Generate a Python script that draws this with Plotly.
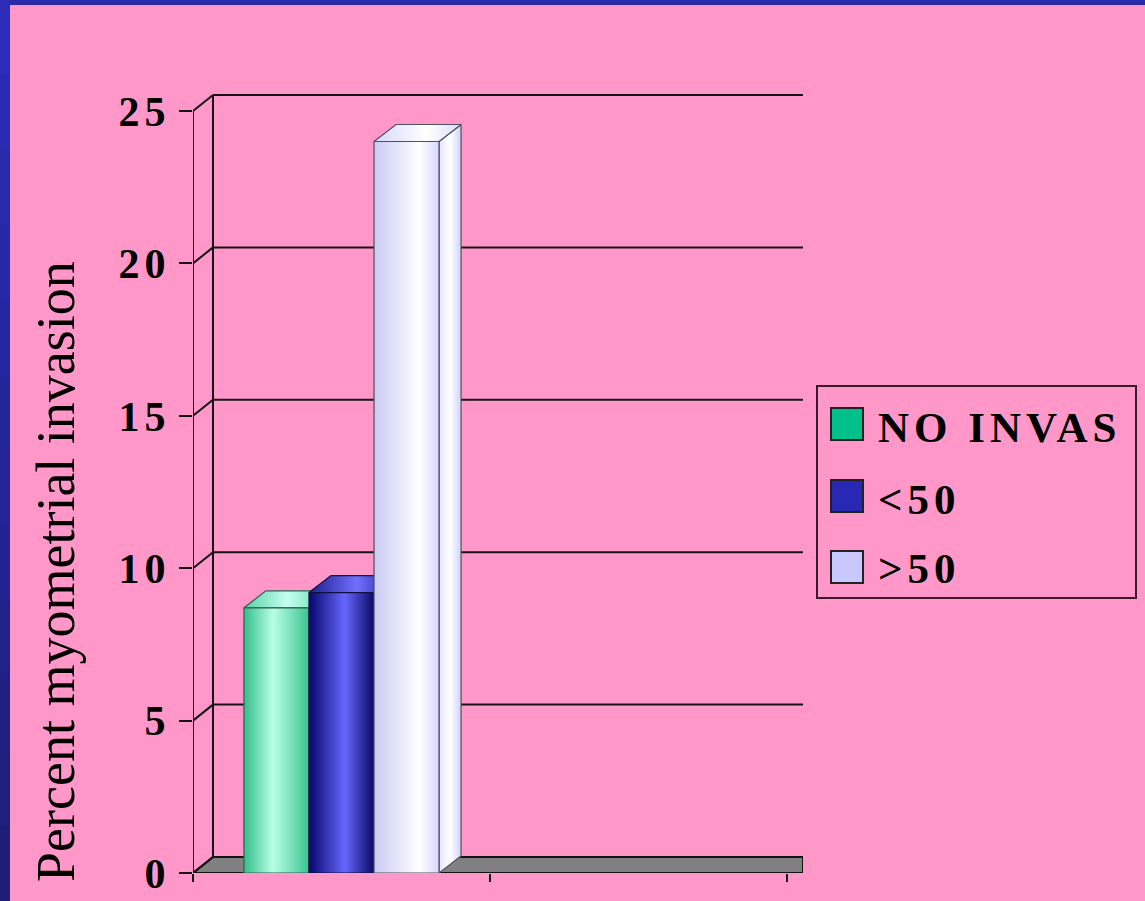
import plotly.graph_objects as go

# ---------------- data ----------------
categories = ["NO INVAS", "<50", ">50"]
values = [8.7, 9.2, 24.0]
y_ticks = [0, 5, 10, 15, 20, 25]
x_slots = [0, 1, 2]
y_title = "Percent myometrial invasion"

# ---------------- style ----------------
W, H = 1145, 901
PL, PR, PT, PB = 193, 803, 85, 873       # plot area in pixels
X_MAX = (PR - PL) / 297.0
Y_MAX = (PB - PT) / 30.48
WALL_DX, WALL_DY = 20 / 297.0, 16 / 30.48
BAR_DX, BAR_DY = 22 / 297.0, 17 / 30.48
BAR_W = 0.219
GROUP_C = 0.5

PINK = "#FF98C8"
FRAME = "#2A2AA8"
LINE = "#141414"

front_scales = [
    [[0, "#34BE88"], [0.45, "#B8FFE8"], [1, "#3AC48E"]],
    [[0, "#06066C"], [0.55, "#6666FF"], [1, "#0A0A64"]],
    [[0, "#CACAF4"], [0.7, "#FFFFFF"], [1, "#D6D6FE"]],
]
top_scales = [
    [[0, "#58D2A4"], [0.5, "#C4FFF0"], [1, "#58D2A4"]],
    [[0, "#1E1E90"], [0.55, "#7070FF"], [1, "#1E1E90"]],
    [[0, "#D6D6FA"], [0.6, "#FFFFFF"], [1, "#DCDCFE"]],
]
side_scales = [
    [[0, "#30B080"], [1, "#30B080"]],
    [[0, "#101070"], [1, "#101070"]],
    [[0, "#E4E4FF"], [0.5, "#FFFFFF"], [1, "#D2D2F8"]],
]
outline = ["#2E6050", "#101040", "#505060"]
swatch = ["#00C08C", "#2828B4", "#C8C8FF"]

fig = go.Figure()

def poly(xs, ys, scale, lc, lw=1.2):
    fig.add_trace(go.Scatter(
        x=xs + [xs[0]], y=ys + [ys[0]], mode="lines", fill="toself",
        fillgradient=dict(type="horizontal", colorscale=scale),
        line=dict(color=lc, width=lw), hoverinfo="skip", showlegend=False))

# floor
poly([0, WALL_DX, X_MAX, X_MAX], [0, WALL_DY, WALL_DY, 0],
     [[0, "#808080"], [1, "#808080"]], LINE, 2)

# back wall grid, wall edge, front axis line and connectors
gx, gy = [], []
for t in y_ticks[1:]:
    gx += [WALL_DX, X_MAX, None]
    gy += [t + WALL_DY, t + WALL_DY, None]
for t in y_ticks:
    gx += [0, WALL_DX, None]
    gy += [t, t + WALL_DY, None]
gx += [WALL_DX, WALL_DX, None, 0, 0]
gy += [WALL_DY, y_ticks[-1] + WALL_DY, None, 0, y_ticks[-1]]
fig.add_trace(go.Scatter(x=gx, y=gy, mode="lines", line=dict(color=LINE, width=2),
                         hoverinfo="skip", showlegend=False))

# 3-D bars
n = len(values)
for i, (cat, v) in enumerate(zip(categories, values)):
    x0 = GROUP_C - n * BAR_W / 2 + i * BAR_W
    x1 = x0 + BAR_W
    poly([x1, x1 + BAR_DX, x1 + BAR_DX, x1], [0, BAR_DY, v + BAR_DY, v],
         side_scales[i], outline[i])
    poly([x0, x1, x1 + BAR_DX, x0 + BAR_DX], [v, v, v + BAR_DY, v + BAR_DY],
         top_scales[i], outline[i])
    poly([x0, x1, x1, x0], [0, 0, v, v], front_scales[i], outline[i])
    fig.add_trace(go.Scatter(x=[(x0 + x1) / 2], y=[v], mode="markers",
                             marker=dict(size=1, opacity=0), name=cat,
                             hovertemplate=cat + ": %{y}<extra></extra>",
                             showlegend=False))

def px(xp):
    return (xp - PL) / (PR - PL)

def py(yp):
    return (PB - yp) / (PB - PT)

shapes = []
# blue frame: top band and left band (vertical shading)
shapes.append(dict(type="rect", xref="paper", yref="paper", x0=px(0), x1=px(W),
                   y0=py(5), y1=py(0), fillcolor=FRAME, line_width=0, layer="below"))
strips = 12
for k in range(strips):
    f = k / (strips - 1)
    r = int(44 - 14 * f); g = int(44 - 14 * f); b = int(184 - 64 * f)
    shapes.append(dict(type="rect", xref="paper", yref="paper", x0=px(0), x1=px(10),
                       y0=py(H * (k + 1) / strips + 1), y1=py(H * k / strips),
                       fillcolor=f"rgb({r},{g},{b})", line_width=0, layer="below"))

# legend box
shapes.append(dict(type="rect", xref="paper", yref="paper", x0=px(817), x1=px(1136),
                   y0=py(598), y1=py(386), line=dict(color="#3A1A2A", width=2)))
sw_centers = [424, 496, 567]
txt_centers = [427, 499, 568]
annotations = []
for i, cat in enumerate(categories):
    c = sw_centers[i]
    shapes.append(dict(type="rect", xref="paper", yref="paper", x0=px(831), x1=px(863),
                       y0=py(c + 16), y1=py(c - 16), fillcolor=swatch[i],
                       line=dict(color="#222222", width=2)))
    label = cat.replace("<", "&lt;").replace(">", "&gt;")
    annotations.append(dict(xref="paper", yref="paper", x=px(876), y=py(txt_centers[i]),
                            xanchor="left", yanchor="middle", showarrow=False,
                            text=f'<span style="letter-spacing:5px">{label}</span>',
                            font=dict(family="Liberation Serif", size=43, color="black",
                                      weight="bold")))

annotations.append(dict(xref="paper", yref="paper", x=px(56), y=py(572), textangle=-90,
                        xanchor="center", yanchor="middle", showarrow=False, text=y_title,
                        font=dict(family="Liberation Serif", size=54, color="black")))

tick_text = [f'<span style="letter-spacing:5px">{t}</span>' for t in y_ticks]

fig.update_layout(
    width=W, height=H, autosize=False,
    margin=dict(l=PL, r=W - PR, t=PT, b=H - PB, pad=0),
    paper_bgcolor=PINK, plot_bgcolor="rgba(0,0,0,0)",
    showlegend=False, shapes=shapes, annotations=annotations,
    xaxis=dict(range=[0, X_MAX], tickvals=x_slots, showticklabels=False,
               ticks="outside", ticklen=8, tickwidth=2, tickcolor=LINE,
               automargin=False,
               showgrid=False, zeroline=False, showline=False, fixedrange=True),
    yaxis=dict(range=[0, Y_MAX], tickvals=y_ticks, ticktext=tick_text,
               ticks="outside", ticklen=13, automargin=False,
               tickwidth=2, tickcolor=LINE, ticklabelstandoff=0,
               tickfont=dict(family="Liberation Serif", size=42, color="black",
                             weight="bold"),
               showgrid=False, zeroline=False, showline=False, fixedrange=True),
)

fig.write_html(
    "out.html", config={"displayModeBar": False},
    post_script=(
        "document.documentElement.style.background='" + PINK + "';"
        "document.body.style.margin='0';"
    ),
)
